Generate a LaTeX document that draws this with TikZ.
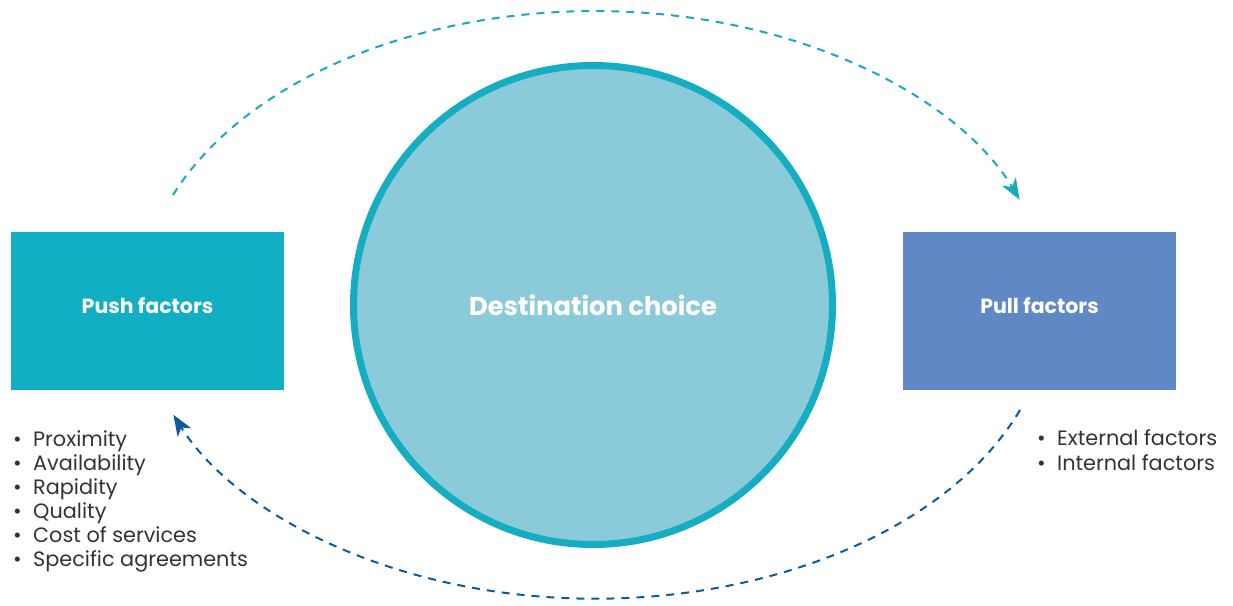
\documentclass[tikz,border=0pt]{standalone}
\usepackage{fontspec}
\setmainfont{Poppins}
\usetikzlibrary{positioning,arrows.meta}
\definecolor{pushcol}{HTML}{12AFC4}
\definecolor{pullcol}{HTML}{5F88C5}
\definecolor{ringcol}{HTML}{14ADC2}
\definecolor{discfill}{HTML}{8BCAD9}
\definecolor{toparc}{HTML}{1AA8BF}
\definecolor{botarc}{HTML}{0B5C9C}
\definecolor{listcol}{HTML}{333333}
\newcommand{\bul}[1]{\makebox[20pt][l]{\textbullet}#1}

\begin{document}
\begin{tikzpicture}[x=1pt, y=1pt]
\useasboundingbox (0,0) rectangle (1233,605);
\node[draw=ringcol, line width=7pt, fill=discfill, circle, inner sep=0pt, minimum size=479pt, text=white, font=\fontsize{25.8}{30}\selectfont\bfseries] (dest) at (593,300) {Destination choice};
\node[fill=pushcol, minimum width=273pt, minimum height=158pt, text depth=12pt, text=white, font=\fontsize{20.5}{24}\selectfont\bfseries] (push) at (147.5,294) {Push factors};
\node[fill=pullcol, minimum width=273pt, minimum height=158pt, text depth=12pt, text=white, font=\fontsize{20.5}{24}\selectfont\bfseries] (pull) at (1039.5,294) {Pull factors};
% base = last line of the list
\node[anchor=base west, inner sep=0pt, align=left, text=listcol, font=\fontsize{20.8}{24}\selectfont] (pushlist) at (13,39) {\bul{Proximity}\\ \bul{Availability}\\ \bul{Rapidity}\\ \bul{Quality}\\ \bul{Cost of services}\\ \bul{Specific agreements}};
\node[anchor=base west, inner sep=0pt, align=left, text=listcol, font=\fontsize{20.8}{24}\selectfont] (pulllist) at (1037,135) {\bul{External factors}\\ \bul{Internal factors}};
% dashed loops between the boxes
\coordinate (topstart) at (173,410);
\coordinate (botstart) at (1020,195);
\draw[-{Stealth[length=21pt, width=16pt, inset=6pt]}, toparc, line width=2pt, dash pattern=on 8pt off 7pt] (topstart) arc[start angle=158, end angle=21, x radius=455, y radius=294];
\draw[-{Stealth[length=21pt, width=16pt, inset=6pt]}, botarc, line width=2pt, dash pattern=on 8pt off 7pt] (botstart) arc[start angle=-21, end angle=-158, x radius=455, y radius=294];
\end{tikzpicture}
\end{document}
